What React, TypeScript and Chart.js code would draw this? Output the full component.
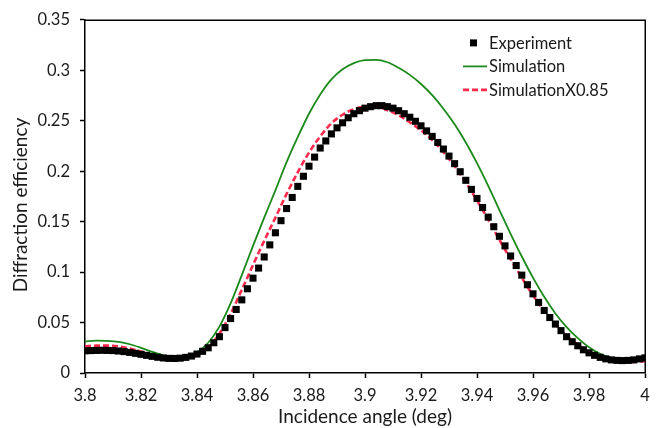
import React, { useEffect, useRef } from 'react';
import { Chart, registerables } from 'chart.js';

Chart.register(...registerables);

// ---- data ----
const expAngles = [
  3.800, 3.802, 3.804, 3.806, 3.808, 3.810, 3.812, 3.814, 3.816, 3.818,
  3.820, 3.822, 3.824, 3.826, 3.828, 3.830, 3.832, 3.834, 3.836, 3.838,
  3.840, 3.842, 3.844, 3.846, 3.848, 3.850, 3.852, 3.854, 3.856, 3.858,
  3.860, 3.862, 3.864, 3.866, 3.868, 3.870, 3.872, 3.874, 3.876, 3.878,
  3.880, 3.882, 3.884, 3.886, 3.888, 3.890, 3.892, 3.894, 3.896, 3.898,
  3.900, 3.902, 3.904, 3.906, 3.908, 3.910, 3.912, 3.914, 3.916, 3.918,
  3.920, 3.922, 3.924, 3.926, 3.928, 3.930, 3.932, 3.934, 3.936, 3.938,
  3.940, 3.942, 3.944, 3.946, 3.948, 3.950, 3.952, 3.954, 3.956, 3.958,
  3.960, 3.962, 3.964, 3.966, 3.968, 3.970, 3.972, 3.974, 3.976, 3.978,
  3.980, 3.982, 3.984, 3.986, 3.988, 3.990, 3.992, 3.994, 3.996, 3.998,
  4.000,
];
const expValues = [
  0.0220, 0.0222, 0.0224, 0.0225, 0.0224, 0.0222, 0.0218, 0.0212, 0.0204, 0.0195,
  0.0185, 0.0175, 0.0165, 0.0156, 0.0149, 0.0145, 0.0144, 0.0147, 0.0155, 0.0168,
  0.0188, 0.0215, 0.0250, 0.0300, 0.0360, 0.0450, 0.0540, 0.0630, 0.0725, 0.0835,
  0.0940, 0.1040, 0.1150, 0.1270, 0.1390, 0.1510, 0.1630, 0.1740, 0.1850, 0.1950,
  0.2050, 0.2140, 0.2230, 0.2300, 0.2370, 0.2430, 0.2480, 0.2530, 0.2570, 0.2600,
  0.2625, 0.2640, 0.2650, 0.2650, 0.2640, 0.2625, 0.2600, 0.2570, 0.2535, 0.2495,
  0.2450, 0.2400, 0.2345, 0.2285, 0.2220, 0.2150, 0.2075, 0.1995, 0.1910, 0.1820,
  0.1730, 0.1640, 0.1545, 0.1450, 0.1355, 0.1260, 0.1160, 0.1065, 0.0970, 0.0875,
  0.0785, 0.0700, 0.0620, 0.0550, 0.0485, 0.0420, 0.0360, 0.0310, 0.0270, 0.0230,
  0.0200, 0.0175, 0.0155, 0.0140, 0.0130, 0.0125, 0.0123, 0.0125, 0.0130, 0.0140,
  0.0150,
];
const simAngles = [
  3.800, 3.804, 3.808, 3.812, 3.816, 3.820, 3.824, 3.828, 3.832, 3.836,
  3.840, 3.844, 3.848, 3.852, 3.856, 3.860, 3.864, 3.868, 3.872, 3.876,
  3.880, 3.884, 3.888, 3.892, 3.896, 3.900, 3.904, 3.908, 3.912, 3.916,
  3.920, 3.924, 3.928, 3.932, 3.936, 3.940, 3.944, 3.948, 3.952, 3.956,
  3.960, 3.964, 3.968, 3.972, 3.976, 3.980, 3.984, 3.988, 3.992, 3.996,
  4.000,
];
const simValues = [
  0.0312, 0.0320, 0.0318, 0.0308, 0.0285, 0.0250, 0.0210, 0.0175, 0.0155, 0.0165,
  0.0205, 0.0300, 0.0460, 0.0690, 0.0970, 0.1260, 0.1540, 0.1810, 0.2090, 0.2340,
  0.2570, 0.2760, 0.2910, 0.3010, 0.3072, 0.3102, 0.3104, 0.3080, 0.3025, 0.2955,
  0.2865, 0.2755, 0.2620, 0.2465, 0.2285, 0.2080, 0.1855, 0.1615, 0.1380, 0.1155,
  0.0945, 0.0755, 0.0590, 0.0455, 0.0345, 0.0255, 0.0190, 0.0150, 0.0130, 0.0128,
  0.0135,
];
const simScaledValues = [
  0.0265, 0.0271, 0.0271, 0.0264, 0.0242, 0.0213, 0.0179, 0.0149, 0.0132, 0.0140,
  0.0175, 0.0255, 0.0390, 0.0585, 0.0825, 0.1070, 0.1310, 0.1540, 0.1775, 0.1990,
  0.2185, 0.2345, 0.2475, 0.2560, 0.2615, 0.2638, 0.2640, 0.2605, 0.2555, 0.2485,
  0.2405, 0.2310, 0.2190, 0.2050, 0.1890, 0.1710, 0.1520, 0.1320, 0.1130, 0.0945,
  0.0770, 0.0615, 0.0480, 0.0370, 0.0283, 0.0212, 0.0162, 0.0130, 0.0112, 0.0110,
  0.0116,
];
const xTickValues = [3.8, 3.82, 3.84, 3.86, 3.88, 3.9, 3.92, 3.94, 3.96, 3.98, 4.0];
const yTickValues = [0, 0.05, 0.1, 0.15, 0.2, 0.25, 0.3, 0.35];
const seriesNames = ['Experiment', 'Simulation', 'SimulationX0.85'];
const xTitle = 'Incidence angle (deg)';
const yTitle = 'Diffraction efficiency';

const FONT = 'Lato, "Open Sans", sans-serif';
const TEXT = '#1a1a1a';
const GREEN = '#1b8a1b';
const RED = '#ff2a4c';

const fmt = (v: number) => String(Number(v.toFixed(4)));

const overlayPlugin = {
  id: 'overlay',
  afterDraw(chart: any) {
    const { ctx, chartArea: a } = chart;
    ctx.save();
    // top and right frame lines
    ctx.strokeStyle = '#000';
    ctx.lineWidth = 1.5;
    ctx.beginPath();
    ctx.moveTo(a.left, a.top + 0.25);
    ctx.lineTo(a.right + 0.25, a.top + 0.25);
    ctx.lineTo(a.right + 0.25, a.bottom);
    ctx.stroke();

    // y axis title (rotated)
    ctx.fillStyle = TEXT;
    ctx.font = `19px ${FONT}`;
    ctx.textAlign = 'center';
    ctx.textBaseline = 'middle';
    ctx.translate(21, 205);
    ctx.rotate(-Math.PI / 2);
    ctx.fillText(yTitle, 0, 0);
    ctx.setTransform(1, 0, 0, 1, 0, 0);

    // legend
    const lx = a.right - 182;
    const rows = [a.top + 23, a.top + 46.5, a.top + 70];
    const ds = chart.data.datasets;
    ctx.font = `16.5px ${FONT}`;
    ctx.textAlign = 'left';
    ctx.textBaseline = 'middle';
    // Experiment marker
    ctx.fillStyle = ds[0].pointBackgroundColor;
    ctx.fillRect(lx + 10.5 - 3.5, rows[0] - 3.5, 7, 7);
    // Simulation line
    ctx.strokeStyle = ds[1].borderColor;
    ctx.lineWidth = ds[1].borderWidth;
    ctx.beginPath();
    ctx.moveTo(lx, rows[1]);
    ctx.lineTo(lx + 24, rows[1]);
    ctx.stroke();
    // Scaled simulation dashed line
    ctx.strokeStyle = ds[2].borderColor;
    ctx.lineWidth = ds[2].borderWidth;
    ctx.setLineDash(ds[2].borderDash);
    ctx.beginPath();
    ctx.moveTo(lx, rows[2]);
    ctx.lineTo(lx + 24, rows[2]);
    ctx.stroke();
    ctx.setLineDash([]);
    ctx.fillStyle = TEXT;
    seriesNames.forEach((name, i) => {
      ctx.fillText(name, lx + 26, rows[i] + 0.5);
    });
    ctx.restore();
  },
};

export default function App() {
  const canvasRef = useRef<HTMLCanvasElement | null>(null);

  useEffect(() => {
    const canvas = canvasRef.current;
    if (!canvas) return;
    const chart = new Chart(canvas, {
      type: 'scatter',
      data: {
        datasets: [
          {
            label: seriesNames[0],
            data: expAngles.map((x, i) => ({ x, y: expValues[i] })),
            showLine: false,
            pointStyle: 'rect',
            pointRadius: 5,
            pointBorderWidth: 0,
            pointBackgroundColor: '#000',
            pointBorderColor: '#000',
          },
          {
            label: seriesNames[1],
            data: simAngles.map((x, i) => ({ x, y: simValues[i] })),
            showLine: true,
            borderColor: GREEN,
            borderWidth: 1.8,
            pointRadius: 0,
            cubicInterpolationMode: 'monotone',
          },
          {
            label: seriesNames[2],
            data: simAngles.map((x, i) => ({ x, y: simScaledValues[i] })),
            showLine: true,
            borderColor: RED,
            borderWidth: 2.6,
            borderDash: [6, 3],
            pointRadius: 0,
            cubicInterpolationMode: 'monotone',
          },
        ],
      },
      options: {
        responsive: false,
        animation: false,
        events: [],
        layout: { padding: { left: 0, right: 18, top: 13, bottom: 0 } },
        plugins: {
          legend: { display: false },
          tooltip: { enabled: false },
        },
        scales: {
          x: {
            type: 'linear',
            min: 3.8,
            max: 4.0,
            afterBuildTicks: (scale: any) => {
              scale.ticks = xTickValues.map((value) => ({ value }));
            },
            afterFit: (scale: any) => {
              scale.height = 55;
            },
            grid: {
              drawOnChartArea: false,
              drawTicks: true,
              tickLength: 5,
              tickWidth: 1.5,
              tickColor: '#000',
            },
            border: { display: true, color: '#000', width: 1.5 },
            ticks: {
              padding: 8,
              color: TEXT,
              font: { family: FONT, size: 16.5 },
              maxRotation: 0,
              autoSkip: false,
              callback: (v: any) => fmt(Number(v)),
            },
            title: {
              display: true,
              text: xTitle,
              color: TEXT,
              font: { family: FONT, size: 19 },
              padding: { top: 0, bottom: 0 },
            },
          },
          y: {
            type: 'linear',
            min: 0,
            max: 0.35,
            afterBuildTicks: (scale: any) => {
              scale.ticks = yTickValues.map((value) => ({ value }));
            },
            afterFit: (scale: any) => {
              scale.width = 85;
            },
            grid: {
              drawOnChartArea: false,
              drawTicks: true,
              tickLength: 5,
              tickWidth: 1.5,
              tickColor: '#000',
            },
            border: { display: true, color: '#000', width: 1.5 },
            ticks: {
              padding: 10,
              color: TEXT,
              font: { family: FONT, size: 16.5 },
              autoSkip: false,
              callback: (v: any) => fmt(Number(v)),
            },
          },
        },
      },
      plugins: [overlayPlugin],
    } as any);
    return () => chart.destroy();
  }, []);

  return (
    <div style={{ position: 'fixed', left: 0, top: 0, width: 663, height: 428, background: '#fff' }}>
      <canvas ref={canvasRef} width={663} height={428} style={{ display: 'block' }} />
    </div>
  );
}
